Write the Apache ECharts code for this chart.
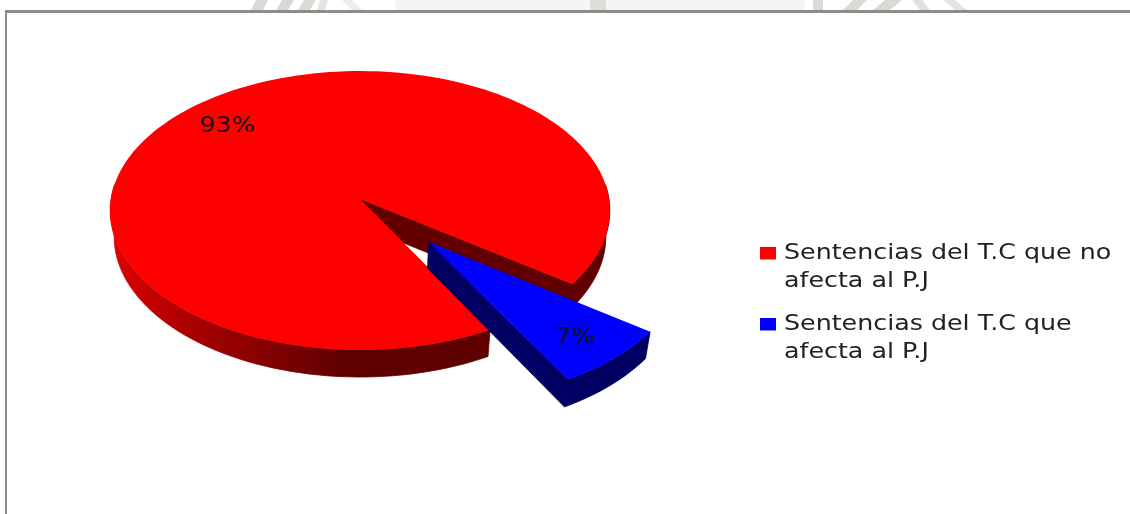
<!DOCTYPE html>
<html><head><meta charset="utf-8">
<style>html,body{margin:0;padding:0;background:#fff}#c{width:1130px;height:514px;filter:blur(0.45px)}</style>
<script src="https://cdn.jsdelivr.net/npm/echarts@6/dist/echarts.min.js"></script>
</head><body><div id="c"></div>
<script>
const categories = ['Sentencias del T.C que no\nafecta al P.J', 'Sentencias del T.C que\nafecta al P.J'];
const shares = [93, 7];
const topColors = ['#ff0000', '#0000ff'];
const wallColors = ['#620000', '#000062'];
const exploded = [0, 0.405];
const labelTurn = [-2.5, 0];

const startAngle = 35.8;            // clockwise on screen, degrees, first edge of the blue slice
const k = 0.0824;                   // perspective strength
const planes = [
  {cx: 360, cy: 199, R: 249, S: 138.5},   // top face
  {cx: 360, cy: 225, R: 245, S: 139.5}    // bottom face
];
function project(u, v, level) {
  const p = planes[level], w = 1 - k * v;
  return [p.cx + p.R * u / w, p.cy + p.S * v / w];
}
const total = shares.reduce((a, b) => a + b, 0);
const spans = [
  [startAngle + shares[1] / total * 360, startAngle + 360],
  [startAngle, startAngle + shares[1] / total * 360]
];
const rad = d => d * Math.PI / 180;
function rimPoints(idx, a, b, level) {
  const pts = [], m = rad((spans[idx][0] + spans[idx][1]) / 2);
  const ox = exploded[idx] * Math.cos(m), oy = exploded[idx] * Math.sin(m);
  const n = Math.max(2, Math.ceil(Math.abs(b - a) / 2));
  for (let i = 0; i <= n; i++) {
    const t = rad(a + (b - a) * i / n);
    pts.push(project(ox + Math.cos(t), oy + Math.sin(t), level));
  }
  return pts;
}
function apex(idx, level) {
  const m = rad((spans[idx][0] + spans[idx][1]) / 2);
  return project(exploded[idx] * Math.cos(m), exploded[idx] * Math.sin(m), level);
}
function poly(points, fill, seam) {
  return {type: 'polygon', shape: {points},
    style: seam ? {fill, stroke: fill, lineWidth: 0.8} : {fill, stroke: null}};
}
function sideBand(idx, a, b, fill) {
  return poly(rimPoints(idx, a, b, 0).concat(rimPoints(idx, b, a, 1)), fill, true);
}
function wall(idx, e) {
  return poly([apex(idx, 0), rimPoints(idx, e, e, 0)[0], rimPoints(idx, e, e, 1)[0], apex(idx, 1)], wallColors[idx], true);
}
const redShade = {type: 'linear', x: 110, y: 0, x2: 345, y2: 0, global: true,
  colorStops: [{offset: 0, color: '#e00000'}, {offset: 0.35, color: '#a80000'}, {offset: 1, color: '#5e0000'}]};

function renderSlice(idx) {
  return function () {
    const [a, b] = spans[idx], children = [];
    if (idx === 0) {
      children.push(wall(0, b));
      children.push(sideBand(0, 354, b, wallColors[0]));
      children.push(sideBand(0, a, 186, redShade));
    } else {
      children.push(wall(1, b));
      children.push(sideBand(1, a, b, wallColors[1]));
    }
    children.push(poly([apex(idx, 0)].concat(rimPoints(idx, a, b, 0)), topColors[idx]));
    // value label at 80 % of the radius, near the slice's mid angle
    const m = rad((a + b) / 2), l = m + rad(labelTurn[idx]);
    const ox = exploded[idx] * Math.cos(m), oy = exploded[idx] * Math.sin(m);
    const pos = project(ox + 0.8 * Math.cos(l), oy + 0.8 * Math.sin(l), 0);
    children.push({type: 'text', x: pos[0], y: pos[1] + 3.5, scaleX: 1.22, z2: 10,
      style: {text: shares[idx] + '%', fill: '#111', font: '20.5px "DejaVu Sans"', align: 'center', verticalAlign: 'middle'}});
    return {type: 'group', children};
  };
}

// legend: stretched text, as in the reference
const legendTop = [247, 318];
const legendItems = categories.flatMap((name, i) => [
  {type: 'rect', shape: {x: 760, y: legendTop[i], width: 16, height: 12.5}, style: {fill: topColors[i]}, silent: true},
  {type: 'text', x: 784, y: legendTop[i] - 8, scaleX: 1.235, silent: true,
    style: {text: name, fill: '#222', font: '20.5px "DejaVu Sans"', lineHeight: 28.5, align: 'left', verticalAlign: 'top'}}
]);

// faint watermark showing above the frame
const wm = '#d8dbd3';
const band = (x1, x2, lean, fill) => ({type: 'polygon', silent: true,
  shape: {points: [[x1, 10], [x1 + lean, 0], [x2 + lean, 0], [x2, 10]]}, style: {fill: fill || wm}});
const frame = '#8c8c8c';

const chart = echarts.init(document.getElementById('c'), null, {renderer: 'canvas'});
chart.setOption({
  animation: false,
  backgroundColor: '#fff',
  graphic: [
    {type: 'rect', silent: true, shape: {x: 395, y: 0, width: 410, height: 10}, style: {fill: '#f4f6f3'}},
    band(590, 606, 0, '#dcdfd8'),
    band(251, 263, 5), band(276, 288, 6), band(298, 310, 6), band(317, 325, 3, '#e4e6e0'), band(352, 362, -10, '#ebede8'),
    band(813, 823, 0), band(843, 857, 10), band(873, 890, 12), band(920, 930, -8, '#e0e2dc'), band(955, 967, -12, '#e4e6e0'),
    {type: 'rect', silent: true, shape: {x: 5, y: 10, width: 1125, height: 3}, style: {fill: frame}},
    {type: 'rect', silent: true, shape: {x: 5, y: 10, width: 2, height: 504}, style: {fill: frame}},
    ...legendItems
  ],
  series: categories.map((name, i) => ({
    type: 'custom', name, coordinateSystem: 'none', silent: true,
    itemStyle: {color: topColors[i]},
    data: [shares[i]],
    renderItem: renderSlice(i)
  }))
});
</script></body></html>
